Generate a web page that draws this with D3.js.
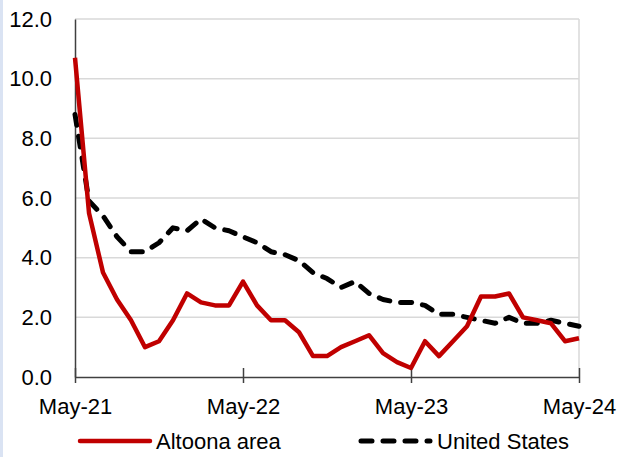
<!DOCTYPE html>
<html>
<head>
<meta charset="utf-8">
<script src="https://cdn.jsdelivr.net/npm/d3@7"></script>
<style>
  body { margin: 0; background: #fff; }
  svg { display: block; font-family: "Liberation Sans", Arial, sans-serif; }
</style>
</head>
<body>
<div id="chart"></div>
<script>
// monthly, May-21 .. May-24
const months = d3.range(37);
const tickLabels = ["May-21", "May-22", "May-23", "May-24"];
const altoona = [10.7, 5.5, 3.5, 2.6, 1.9, 1.0, 1.2, 1.9, 2.8, 2.5, 2.4, 2.4,
  3.2, 2.4, 1.9, 1.9, 1.5, 0.7, 0.7, 1.0, 1.2, 1.4, 0.8, 0.5,
  0.3, 1.2, 0.7, 1.2, 1.7, 2.7, 2.7, 2.8, 2.0, 1.9, 1.8, 1.2, 1.3];
const unitedStates = [8.8, 5.9, 5.4, 4.7, 4.2, 4.2, 4.5, 5.0, 4.9, 5.3, 5.0, 4.9,
  4.7, 4.5, 4.2, 4.1, 3.9, 3.5, 3.3, 3.0, 3.2, 2.8, 2.6, 2.5,
  2.5, 2.4, 2.1, 2.1, 2.0, 1.9, 1.8, 2.0, 1.8, 1.8, 1.9, 1.8, 1.7];
const yTicks = [0, 2, 4, 6, 8, 10, 12];

const W = 619, H = 457;
const margin = {top: 19, right: 40, bottom: 80, left: 75};
const width = W - margin.left - margin.right;
const height = H - margin.top - margin.bottom;
const fontSize = "22px";

const svg = d3.select("#chart").append("svg")
  .attr("width", W).attr("height", H);

// thin blue edge on the left of the picture
svg.append("rect").attr("x", 0).attr("y", 0).attr("width", 3).attr("height", H)
  .attr("fill", "#dae3f3");

const g = svg.append("g")
  .attr("transform", "translate(" + margin.left + "," + margin.top + ")");

const x = d3.scaleLinear().domain([0, 36]).range([0, width]);
const y = d3.scaleLinear().domain([0, 12]).range([height, 0]);

// gridlines
g.selectAll(".grid")
  .data(yTicks.filter(d => d > 0))
  .enter().append("line")
    .attr("class", "grid")
    .attr("x1", 0).attr("x2", width)
    .attr("y1", d => y(d)).attr("y2", d => y(d))
    .attr("stroke", "#d9d9d9").attr("stroke-width", 1.5);

// right border of plot area
g.append("line")
  .attr("x1", width).attr("x2", width)
  .attr("y1", 0).attr("y2", height)
  .attr("stroke", "#d9d9d9").attr("stroke-width", 1.5);

// y axis
const yAxis = g.append("g")
  .call(d3.axisLeft(y).tickValues(yTicks).tickFormat(d3.format(".1f")).tickSize(0).tickPadding(23));
yAxis.select(".domain").attr("stroke", "#404040").attr("stroke-width", 1.5);
yAxis.selectAll("text").style("font-size", fontSize).attr("fill", "#000");

// x axis
const xAxis = g.append("g")
  .attr("transform", "translate(0," + height + ")")
  .call(d3.axisBottom(x).tickValues([0, 12, 24, 36])
    .tickFormat((d, i) => tickLabels[i]).tickSize(6).tickSizeOuter(0).tickPadding(15));
xAxis.select(".domain").attr("stroke", "#404040").attr("stroke-width", 1.5);
xAxis.selectAll(".tick line").attr("stroke", "#404040").attr("stroke-width", 1.5).attr("y1", -9);
xAxis.selectAll("text").style("font-size", fontSize).attr("fill", "#000");

const line = d3.line()
  .x((d, i) => x(months[i]))
  .y(d => y(d));

g.append("path")
  .datum(unitedStates)
  .attr("fill", "none")
  .attr("stroke", "#000")
  .attr("stroke-width", 5)
  .attr("stroke-linecap", "round")
  .attr("stroke-linejoin", "round")
  .attr("stroke-dasharray", "11,11")
  .attr("d", line);

g.append("path")
  .datum(altoona)
  .attr("fill", "none")
  .attr("stroke", "#c00000")
  .attr("stroke-width", 4.5)
  .attr("stroke-linejoin", "round")
  .attr("d", line);

// legend
const legend = svg.append("g").attr("transform", "translate(0,441)");
legend.append("line")
  .attr("x1", 80).attr("x2", 150).attr("y1", 0).attr("y2", 0)
  .attr("stroke", "#c00000").attr("stroke-width", 4.5).attr("stroke-linecap", "round");
legend.append("text")
  .attr("x", 156).attr("y", 0).attr("dy", "0.35em")
  .style("font-size", fontSize).text("Altoona area");
legend.append("line")
  .attr("x1", 361).attr("x2", 430).attr("y1", 0).attr("y2", 0)
  .attr("stroke", "#000").attr("stroke-width", 5).attr("stroke-linecap", "round")
  .attr("stroke-dasharray", "11,11");
legend.append("text")
  .attr("x", 437).attr("y", 0).attr("dy", "0.35em")
  .style("font-size", fontSize).text("United States");
</script>
</body>
</html>
